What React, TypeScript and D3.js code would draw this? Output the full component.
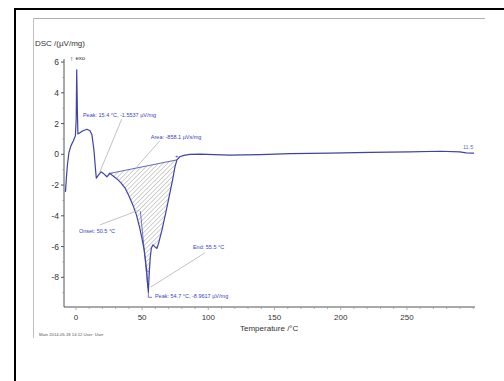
import React from 'react';
import * as d3 from 'd3';

// DSC trace, temperature in °C and signal in µV/mg
const temperature = [
  -7.9, -7.2, -6.4, -5.3, -3.8, -1.9, -0.4, 0.2, 0.6, 1.1, 1.5, 3.0, 5.3, 8.3, 10.6, 12.1, 13.6, 14.7,
  15.4, 16.6, 18.9, 21.1, 23.4, 25.7, 27.9, 31.0, 34.0, 37.0, 40.0, 43.0, 45.7, 48.0, 49.8, 51.4, 52.5,
  53.5, 54.0, 54.7, 55.3, 56.1, 57.0, 58.2, 59.7, 61.2, 62.7, 65.0, 68.0, 71.0, 73.0, 74.8, 76.3, 78.5,
  81.5, 86.1, 93.7, 116, 139, 162, 192, 222, 252, 275, 290, 294.6, 300.6,
];
const dsc = [
  -2.44, -1.53, -0.68, 0.1, 0.55, 0.88, 1.2, 2.25, 5.5, 2.9, 1.33, 1.4, 1.53, 1.63, 1.53, 1.27, 0.29, -0.88,
  -1.55, -1.4, -1.14, -1.27, -1.46, -1.24, -1.4, -1.6, -1.86, -2.18, -2.7, -3.29, -3.94, -4.72, -5.44, -6.15, -6.87,
  -7.65, -8.3, -8.96, -7.84, -6.74, -6.09, -5.89, -6.02, -6.12, -5.7, -4.92, -3.74, -2.51, -1.66, -0.82, -0.36, -0.16,
  -0.07, 0, 0.01, -0.05, -0.02, 0.05, 0.08, 0.13, 0.16, 0.2, 0.16, 0.1, 0.08,
];

// integration range of the melting peak (baseline end points)
const areaStart = 25.7;
const areaEnd = 76.3;

const xTicks = [0, 50, 100, 150, 200, 250];
const yTicks = [-8, -6, -4, -2, 0, 2, 4, 6];

const peak1Text = 'Peak: 15.4 °C, -1.5537 µV/mg';
const areaText = 'Area: -858.1 µVs/mg';
const onsetText = 'Onset: 50.5 °C';
const endText = 'End: 55.5 °C';
const peak2Text = 'Peak: 54.7 °C, -8.9617 µV/mg';
const segmentText = '11.5';
const footerText = 'Main   2014-05-18 14:12    User: User';

const W = 504;
const H = 381;

export default function App() {
  const x = d3.scaleLinear().domain([-9, 301.4]).range([64, 475]);
  const y = d3.scaleLinear().domain([-9.93, 6.2]).range([307, 59]);

  const pts: [number, number][] = temperature.map((t, i) => [t, dsc[i]]);
  const line = d3.line<[number, number]>().x(d => x(d[0])).y(d => y(d[1]));
  const peakPts = pts.filter(d => d[0] >= areaStart && d[0] <= areaEnd);
  const areaPath = line(peakPts) + 'Z';
  const b0 = peakPts[0];
  const b1 = peakPts[peakPts.length - 1];

  const blue = '#3f42a6';
  const txtBlue = '#3a3fc4';
  const lead = '#a8a8a8';
  const minorX = d3.range(0, 301, 10);

  return (
    <svg width={W} height={H} style={{ position: 'absolute', left: 0, top: 0, background: '#fff' }}
      fontFamily="Arial, 'Liberation Sans', sans-serif">
      <defs>
        <pattern id="hatch" width="3.2" height="3.2" patternUnits="userSpaceOnUse" patternTransform="rotate(45)">
          <line x1="0" y1="0" x2="0" y2="3.2" stroke="#8c8c8c" strokeWidth="0.8" />
        </pattern>
      </defs>

      {/* outer frame */}
      <rect x={15} y={9} width={520} height={400} fill="none" stroke="#000" strokeWidth={2} />
      {/* scanned figure border */}
      <line x1={33} y1={18.5} x2={485} y2={18.5} stroke="#b0b0b0" />
      <line x1={33.5} y1={18} x2={33.5} y2={338} stroke="#c0c0c0" />

      {/* axes */}
      <line x1={x.range()[0]} x2={x.range()[1]} y1={307} y2={307} stroke="#555" strokeWidth={1} />
      <line x1={64} x2={64} y1={59} y2={307} stroke="#555" strokeWidth={1} />
      {minorX.map(t => (
        <line key={'mx' + t} x1={x(t)} x2={x(t)} y1={307} y2={xTicks.includes(t) ? 310 : 309} stroke="#999" strokeWidth={0.8} />
      ))}
      {xTicks.map(t => (
        <text key={'xt' + t} x={x(t)} y={319.5} fontSize={8} textAnchor="middle" fill="#333">{t}</text>
      ))}
      {yTicks.map(t => (
        <g key={'yt' + t}>
          <line x1={61} x2={64} y1={y(t)} y2={y(t)} stroke="#555" />
          <text x={59} y={y(t) + 3} fontSize={8.5} textAnchor="end" fill="#333">{t}</text>
        </g>
      ))}
      {d3.range(-9, 6, 2).map(t => (
        <line key={'my' + t} x1={62.5} x2={64} y1={y(t)} y2={y(t)} stroke="#888" strokeWidth={0.8} />
      ))}

      <text x={35} y={46} fontSize={8} fill="#333">DSC /(µV/mg)</text>
      <text x={70} y={61} fontSize={6.5} fill="#333">↑</text>
      <text x={75.5} y={60} fontSize={6} fill="#333">exo</text>
      <text x={240} y={331} fontSize={8} fill="#333">Temperature /°C</text>
      <text x={39} y={335.5} fontSize={4.2} fill="#555">{footerText}</text>

      {/* integrated area */}
      <path d={areaPath} fill="url(#hatch)" stroke="none" />
      <line x1={x(b0[0])} y1={y(b0[1])} x2={x(b1[0])} y2={y(b1[1])} stroke={blue} strokeWidth={0.8} />
      <line x1={x(48.7)} y1={y(-3.7)} x2={x(54.4)} y2={y(-8.7)} stroke={blue} strokeWidth={0.7} />
      <line x1={x(52.8)} y1={y(-7.6)} x2={x(55.4)} y2={y(-7.6)} stroke={blue} strokeWidth={0.7} />
      <text x={x(b1[0]) - 2} y={y(b1[1]) - 2} fontSize={6} fill={blue}>+</text>
      <text x={x(b0[0]) - 2} y={y(b0[1]) + 2} fontSize={6} fill={blue}>+</text>

      {/* DSC curve */}
      <path d={line(pts) ?? ''} fill="none" stroke={blue} strokeWidth={1.2} strokeLinejoin="round" />

      {/* annotations */}
      <line x1={x(34.7)} y1={y(2.31)} x2={x(18.1)} y2={y(-1.14)} stroke={lead} strokeWidth={0.7} />
      <text x={x(5.3)} y={y(2.44)} fontSize={5.5} fill={txtBlue}>{peak1Text}</text>

      <line x1={x(63.4)} y1={y(0.88)} x2={x(45.3)} y2={y(-0.88)} stroke={lead} strokeWidth={0.7} />
      <text x={x(56.6)} y={y(1.0)} fontSize={5.5} fill={txtBlue}>{areaText}</text>

      <line x1={x(18.1)} y1={y(-4.59)} x2={x(48.3)} y2={y(-3.61)} stroke={lead} strokeWidth={0.7} />
      <text x={x(2.3)} y={y(-5.11)} fontSize={5.5} fill={txtBlue}>{onsetText}</text>

      <line x1={x(97.4)} y1={y(-6.41)} x2={x(56.6)} y2={y(-8.63)} stroke={lead} strokeWidth={0.7} />
      <text x={x(88.4)} y={y(-6.15)} fontSize={5.5} fill={txtBlue}>{endText}</text>

      <polyline points={`${x(54.7)},${y(-8.96)} ${x(54.7)},${y(-9.3)} ${x(57.5)},${y(-9.3)}`} fill="none" stroke={blue} strokeWidth={0.7} />
      <text x={x(59.7)} y={y(-9.34)} fontSize={5.5} fill={txtBlue}>{peak2Text}</text>

      <text x={x(292.3)} y={y(0.36)} fontSize={5.5} fill="#6a6fa8">{segmentText}</text>
    </svg>
  );
}
